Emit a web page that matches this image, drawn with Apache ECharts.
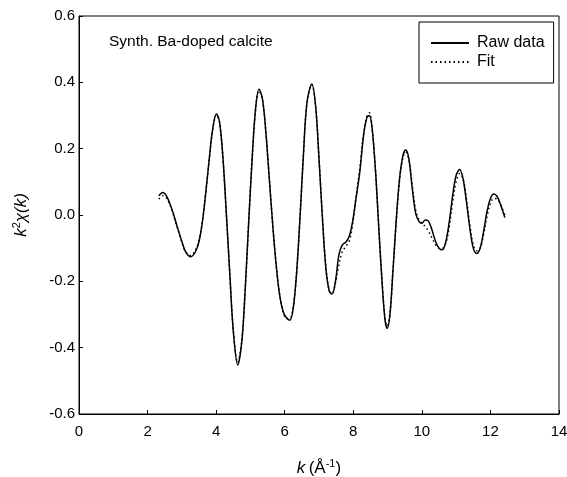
<!DOCTYPE html>
<html>
<head>
<meta charset="utf-8">
<script src="https://cdn.jsdelivr.net/npm/echarts@6/dist/echarts.min.js"></script>
<style>html,body{margin:0;padding:0;background:#fff}#c{width:567px;height:477px}</style>
</head>
<body>
<div id="c"></div>
<script>
const kRaw = [2.33, 2.44, 2.55, 2.7, 2.85, 3.0, 3.12, 3.26, 3.4, 3.5, 3.6, 3.7, 3.8, 3.9, 4.01, 4.1, 4.2, 4.3, 4.4, 4.5, 4.63, 4.75, 4.85, 4.95, 5.05, 5.15, 5.25, 5.35, 5.45, 5.55, 5.65, 5.75, 5.85, 5.95, 6.05, 6.15, 6.25, 6.35, 6.45, 6.55, 6.65, 6.79, 6.9, 7.0, 7.1, 7.2, 7.3, 7.38, 7.48, 7.58, 7.68, 7.78, 7.88, 7.98, 8.08, 8.19, 8.3, 8.4, 8.47, 8.55, 8.65, 8.75, 8.85, 8.93, 8.99, 9.07, 9.15, 9.25, 9.35, 9.45, 9.53, 9.62, 9.72, 9.82, 9.92, 10.0, 10.1, 10.18, 10.28, 10.4, 10.5, 10.6, 10.7, 10.8, 10.9, 11.0, 11.1, 11.2, 11.3, 11.4, 11.5, 11.6, 11.7, 11.8, 11.9, 12.0, 12.1, 12.2, 12.3, 12.42];
const yRaw = [0.058, 0.068, 0.058, 0.02, -0.03, -0.08, -0.113, -0.126, -0.11, -0.08, -0.02, 0.07, 0.17, 0.26, 0.305, 0.28, 0.17, 0.0, -0.18, -0.35, -0.452, -0.38, -0.22, -0.02, 0.17, 0.32, 0.379, 0.35, 0.25, 0.11, -0.03, -0.15, -0.24, -0.29, -0.31, -0.317, -0.28, -0.17, 0.0, 0.19, 0.34, 0.395, 0.33, 0.17, -0.01, -0.16, -0.23, -0.238, -0.2, -0.12, -0.09, -0.082, -0.065, -0.02, 0.05, 0.13, 0.24, 0.295, 0.3, 0.26, 0.13, -0.05, -0.22, -0.32, -0.342, -0.3, -0.18, -0.02, 0.11, 0.18, 0.196, 0.17, 0.08, 0.005, -0.02, -0.025, -0.015, -0.017, -0.04, -0.08, -0.1, -0.105, -0.08, -0.02, 0.06, 0.12, 0.137, 0.11, 0.04, -0.04, -0.1, -0.116, -0.1, -0.05, 0.01, 0.05, 0.063, 0.055, 0.03, -0.008];
const kFit = [2.33, 2.44, 2.55, 2.7, 2.85, 3.0, 3.12, 3.26, 3.4, 3.5, 3.6, 3.7, 3.8, 3.9, 4.01, 4.1, 4.2, 4.3, 4.4, 4.5, 4.63, 4.75, 4.85, 4.95, 5.05, 5.15, 5.25, 5.35, 5.45, 5.55, 5.65, 5.75, 5.85, 5.95, 6.05, 6.15, 6.25, 6.35, 6.45, 6.55, 6.65, 6.79, 6.9, 7.0, 7.1, 7.2, 7.3, 7.38, 7.48, 7.58, 7.68, 7.78, 7.88, 7.98, 8.08, 8.19, 8.3, 8.4, 8.47, 8.55, 8.65, 8.75, 8.85, 8.93, 8.99, 9.07, 9.15, 9.25, 9.35, 9.45, 9.53, 9.62, 9.72, 9.82, 9.92, 10.0, 10.1, 10.2, 10.3, 10.4, 10.5, 10.6, 10.7, 10.8, 10.9, 11.0, 11.1, 11.2, 11.3, 11.4, 11.5, 11.6, 11.7, 11.8, 11.9, 12.0, 12.1, 12.2, 12.3, 12.42];
const yFit = [0.048, 0.058, 0.052, 0.018, -0.032, -0.082, -0.112, -0.122, -0.105, -0.075, -0.018, 0.07, 0.168, 0.258, 0.302, 0.278, 0.168, 0.0, -0.18, -0.345, -0.445, -0.378, -0.22, -0.02, 0.17, 0.318, 0.375, 0.348, 0.25, 0.112, -0.028, -0.148, -0.238, -0.29, -0.312, -0.312, -0.275, -0.168, 0.0, 0.19, 0.338, 0.392, 0.33, 0.172, -0.005, -0.155, -0.228, -0.235, -0.205, -0.15, -0.11, -0.095, -0.08, -0.03, 0.055, 0.14, 0.245, 0.3, 0.308, 0.262, 0.13, -0.05, -0.215, -0.315, -0.335, -0.295, -0.18, -0.025, 0.105, 0.175, 0.19, 0.168, 0.09, 0.015, -0.015, -0.025, -0.035, -0.05, -0.07, -0.09, -0.1, -0.1, -0.085, -0.035, 0.04, 0.1, 0.125, 0.11, 0.05, -0.03, -0.09, -0.108, -0.1, -0.06, -0.005, 0.035, 0.05, 0.048, 0.03, 0.0];
const seriesNames = ['Raw data', 'Fit'];
const panelLabel = 'Synth. Ba-doped calcite';

const FONT = 'Liberation Sans, Arial, sans-serif';
const chart = echarts.init(document.getElementById('c'), null, {renderer: 'canvas'});
chart.setOption({
  animation: false,
  backgroundColor: '#fff',
  grid: {left: 79, right: 8, top: 16, bottom: 63, outerBoundsMode: 'none', containLabel: false, show: true, borderColor: '#000', borderWidth: 1, backgroundColor: 'transparent'},
  title: {text: panelLabel, left: 104, top: 29, textStyle: {fontFamily: FONT, fontSize: 15.5, fontWeight: 'normal', color: '#000'}},
  legend: {
    orient: 'vertical', left: 419, top: 22,
    borderColor: '#000', borderWidth: 1, padding: [13, 9, 13, 11], itemGap: 3,
    itemWidth: 38, itemHeight: 14,
    itemStyle: {color: 'transparent', borderWidth: 0, opacity: 0},
    textStyle: {fontFamily: FONT, fontSize: 16, color: '#000', padding: [0, 0, 0, 3]},
    data: seriesNames
  },
  xAxis: {
    type: 'value', min: 0, max: 14, interval: 2,
    axisLine: {show: true, onZero: false, lineStyle: {color: '#000', width: 1}},
    axisTick: {show: true, inside: true, length: 4, lineStyle: {color: '#000'}},
    splitLine: {show: false},
    axisLabel: {margin: 10, fontFamily: FONT, fontSize: 15, color: '#000'},
    name: '{i|k} {n|(Å}{s|-1}{n|)}', nameLocation: 'middle', nameGap: 44,
    nameTextStyle: {rich: {
      i: {fontFamily: FONT, fontSize: 17, fontStyle: 'italic', color: '#000', lineHeight: 20},
      n: {fontFamily: FONT, fontSize: 17, color: '#000', lineHeight: 20},
      s: {fontFamily: FONT, fontSize: 11, color: '#000', verticalAlign: 'top', lineHeight: 20}
    }}
  },
  yAxis: {
    type: 'value', min: -0.6, max: 0.6, interval: 0.2,
    axisLine: {show: true, onZero: false, lineStyle: {color: '#000', width: 1}},
    axisTick: {show: true, inside: true, length: 4, lineStyle: {color: '#000'}},
    splitLine: {show: false},
    axisLabel: {margin: 4, fontFamily: FONT, fontSize: 15, color: '#000', formatter: v => v.toFixed(1)},
    name: '{i|k}{s|2}{n|χ(}{i|k}{n|)}', nameLocation: 'middle', nameGap: 48, nameRotate: 90,
    nameTextStyle: {rich: {
      i: {fontFamily: FONT, fontSize: 17, fontStyle: 'italic', color: '#000', lineHeight: 20},
      n: {fontFamily: FONT, fontSize: 17, fontStyle: 'italic', color: '#000', lineHeight: 20},
      s: {fontFamily: FONT, fontSize: 11, color: '#000', verticalAlign: 'top', lineHeight: 20}
    }}
  },
  series: [
    {name: seriesNames[0], type: 'line', data: kRaw.map((k, i) => [k, yRaw[i]]), showSymbol: false, symbol: 'none', smooth: 0.35,
     lineStyle: {color: '#000', width: 1.5}, itemStyle: {color: '#000'}, z: 3},
    {name: seriesNames[1], type: 'line', data: kFit.map((k, i) => [k, yFit[i]]), showSymbol: false, symbol: 'none', smooth: 0.35,
     lineStyle: {color: '#000', width: 1.5, type: [1.5, 3]}, itemStyle: {color: '#000'}, z: 2}
  ]
});
</script>
</body>
</html>
